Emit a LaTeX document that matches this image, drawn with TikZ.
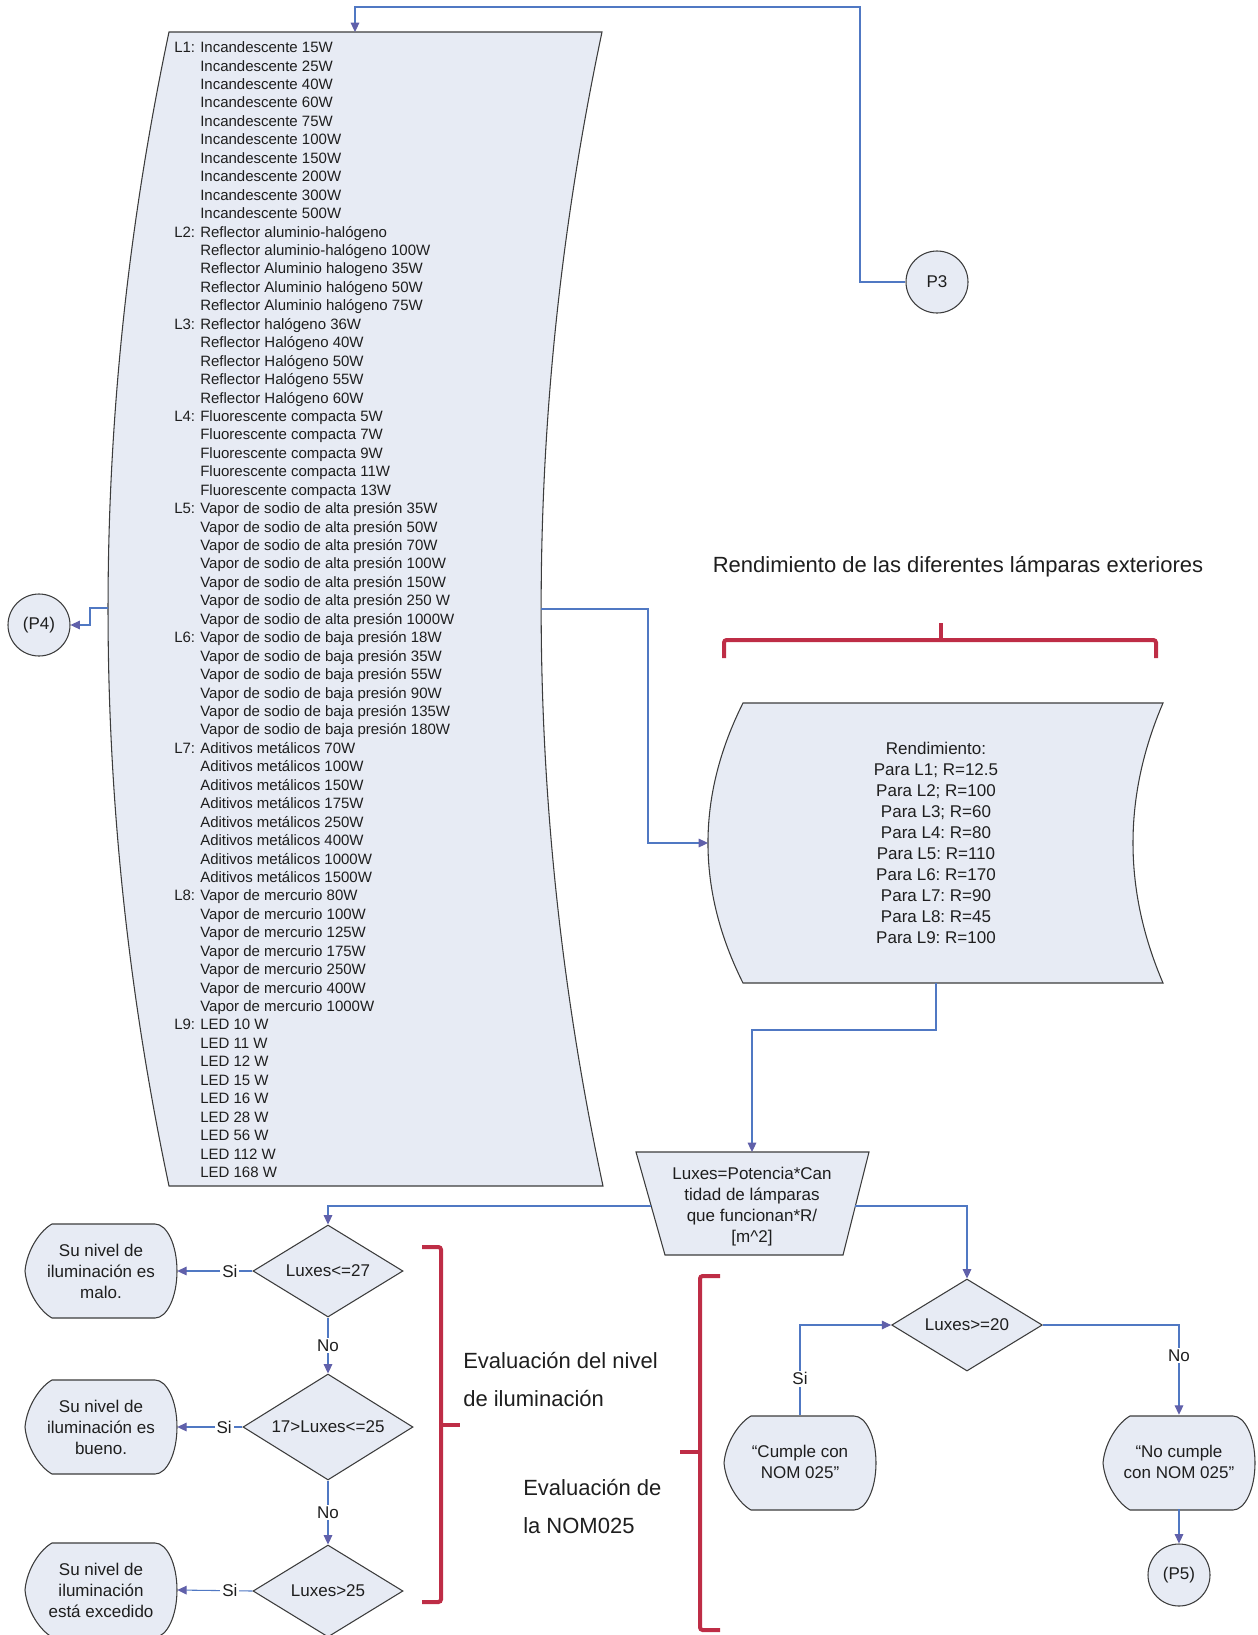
\documentclass[tikz,border=0pt]{standalone}
\usepackage{fontspec}
\setmainfont{Liberation Sans}
\usetikzlibrary{shapes.geometric,arrows.meta,calc}
\definecolor{linec}{RGB}{80,120,195}
\definecolor{tipc}{RGB}{96,96,170}
\definecolor{fillc}{RGB}{231,235,244}
\definecolor{edgec}{RGB}{60,60,60}
\definecolor{redc}{RGB}{190,45,70}
\definecolor{txtc}{RGB}{30,30,30}
\newcommand{\Lb}[1]{\makebox[19.5pt][l]{#1}}
\frenchspacing
\tikzset{
 shp/.style={fill=fillc, draw=edgec, line width=0.8pt},
 conn/.style={draw=linec, line width=0.8pt},
 arr/.style={conn, -{Triangle[length=7pt,width=6.5pt,color=tipc]}},
 brk/.style={draw=redc, line width=3pt, rounded corners=2pt},
 ftx/.style={font=\fontsize{12.75}{15.75}\selectfont, text=txtc, align=center},
 dec/.style={diamond, shp, aspect=1.6, inner sep=0pt, ftx},
 circ/.style={circle, shp, minimum size=46.5pt, inner sep=0pt, ftx},
 disp/.style={rectangle, minimum width=114pt, minimum height=70.5pt, inner sep=0pt, ftx},
 lbl/.style={fill=white, inner sep=1.5pt, ftx},
 big/.style={font=\fontsize{16.5}{28.5}\selectfont, text=txtc, align=left, inner sep=0pt},
}
\newcommand{\dispshape}[2]{%
 \draw[shp, shift={(#1,#2)}] (-49,-47) -- (54,-47) .. controls (66,-47) and (76,-26) .. (76,0) .. controls (76,26) and (66,47) .. (54,47) -- (-49,47) .. controls (-60,41) and (-74,22) .. (-76,0) .. controls (-74,-22) and (-60,-41) .. (-49,-47) -- cycle;}
\begin{document}
\begin{tikzpicture}[x=0.75pt,y=-0.75pt]
\useasboundingbox (0,0) rectangle (1257,1635);

% big list shape
\draw[shp] (169,32) -- (602,32) .. controls (520.7,416.7) and (520.7,801.3) .. (603,1186) -- (169,1186) .. controls (87.7,801.3) and (87.7,416.7) .. (169,32) -- cycle;
\node[anchor=north west, inner sep=0pt, font=\fontsize{11.25}{13.83}\selectfont, text=txtc, align=left] (lamps) at (174,41.5) {%
\Lb{L1:}Incandescente 15W\\
\Lb{}Incandescente 25W\\
\Lb{}Incandescente 40W\\
\Lb{}Incandescente 60W\\
\Lb{}Incandescente 75W\\
\Lb{}Incandescente 100W\\
\Lb{}Incandescente 150W\\
\Lb{}Incandescente 200W\\
\Lb{}Incandescente 300W\\
\Lb{}Incandescente 500W\\
\Lb{L2:}Reflector aluminio-halógeno\\
\Lb{}Reflector aluminio-halógeno 100W\\
\Lb{}Reflector Aluminio halogeno 35W\\
\Lb{}Reflector Aluminio halógeno 50W\\
\Lb{}Reflector Aluminio halógeno 75W\\
\Lb{L3:}Reflector halógeno 36W\\
\Lb{}Reflector Halógeno 40W\\
\Lb{}Reflector Halógeno 50W\\
\Lb{}Reflector Halógeno 55W\\
\Lb{}Reflector Halógeno 60W\\
\Lb{L4:}Fluorescente compacta 5W\\
\Lb{}Fluorescente compacta 7W\\
\Lb{}Fluorescente compacta 9W\\
\Lb{}Fluorescente compacta 11W\\
\Lb{}Fluorescente compacta 13W\\
\Lb{L5:}Vapor de sodio de alta presión 35W\\
\Lb{}Vapor de sodio de alta presión 50W\\
\Lb{}Vapor de sodio de alta presión 70W\\
\Lb{}Vapor de sodio de alta presión 100W\\
\Lb{}Vapor de sodio de alta presión 150W\\
\Lb{}Vapor de sodio de alta presión 250 W\\
\Lb{}Vapor de sodio de alta presión 1000W\\
\Lb{L6:}Vapor de sodio de baja presión 18W\\
\Lb{}Vapor de sodio de baja presión 35W\\
\Lb{}Vapor de sodio de baja presión 55W\\
\Lb{}Vapor de sodio de baja presión 90W\\
\Lb{}Vapor de sodio de baja presión 135W\\
\Lb{}Vapor de sodio de baja presión 180W\\
\Lb{L7:}Aditivos metálicos 70W\\
\Lb{}Aditivos metálicos 100W\\
\Lb{}Aditivos metálicos 150W\\
\Lb{}Aditivos metálicos 175W\\
\Lb{}Aditivos metálicos 250W\\
\Lb{}Aditivos metálicos 400W\\
\Lb{}Aditivos metálicos 1000W\\
\Lb{}Aditivos metálicos 1500W\\
\Lb{L8:}Vapor de mercurio 80W\\
\Lb{}Vapor de mercurio 100W\\
\Lb{}Vapor de mercurio 125W\\
\Lb{}Vapor de mercurio 175W\\
\Lb{}Vapor de mercurio 250W\\
\Lb{}Vapor de mercurio 400W\\
\Lb{}Vapor de mercurio 1000W\\
\Lb{L9:}LED 10 W\\
\Lb{}LED 11 W\\
\Lb{}LED 12 W\\
\Lb{}LED 15 W\\
\Lb{}LED 16 W\\
\Lb{}LED 28 W\\
\Lb{}LED 56 W\\
\Lb{}LED 112 W\\
\Lb{}LED 168 W};
\coordinate (Ltop) at (355,32);
\coordinate (Lw) at (108,608);
\coordinate (Le) at (541,609);

% connectors P3 / P4
\node[circ] (p3) at (937,282) {P3};
\node[circ] (p4) at (39,625) {(P4)};
\draw[arr] (p3.west) -- (860,282) -- (860,7) -| (Ltop);
\draw[arr] (Lw) -- (90,608) |- (p4.east);

% Rendimiento
\node[font=\fontsize{16.5}{20}\selectfont, text=txtc] (title) at (958,567) {Rendimiento de las diferentes lámparas exteriores};
\draw[brk] (724,658) -- (724,640) -- (1156,640) -- (1156,658);
\draw[brk] (941,640) -- (941,623);
\draw[shp] (743,703) -- (1163,703) .. controls (1123,796.3) and (1123,889.7) .. (1163,983) -- (743,983) .. controls (696.3,889.7) and (696.3,796.3) .. (743,703) -- cycle;
\node[ftx] (rend) at (936,842.5) {Rendimiento:\\Para L1; R=12.5\\Para L2; R=100\\Para L3; R=60\\Para L4: R=80\\Para L5: R=110\\Para L6: R=170\\Para L7: R=90\\Para L8: R=45\\Para L9: R=100};
\coordinate (rendW) at (708,843);
\coordinate (rendS) at (936,983);
\draw[arr] (Le) -- (648,609) |- (rendW);

% Luxes trapezoid
\draw[shp] (636,1152) -- (869,1152) -- (843,1255) -- (665,1255) -- cycle;
\node[ftx, inner sep=0pt] (lux) at (752,1207) {Luxes=Potencia*Can\\tidad de lámparas\\que funcionan*R/\\{[m\textasciicircum 2]}};
\coordinate (luxN) at (752,1152);
\coordinate (luxW) at (651,1206);
\coordinate (luxE) at (855,1206);
\draw[arr] (rendS) -- (936,1030) -| (luxN);

% left decision column
\node[dec, minimum width=112.5pt, minimum height=69pt] (d1) at (328,1271) {Luxes<=27};
\node[dec, minimum width=127.5pt, minimum height=79.5pt] (d2) at (328,1427) {17>Luxes<=25};
\node[dec, minimum width=112.5pt, minimum height=69pt] (d3) at (328,1591) {Luxes>25};
\dispshape{101}{1271}
\node[disp] (m1) at (101,1271) {Su nivel de\\iluminación es\\malo.};
\dispshape{101}{1427}
\node[disp] (m2) at (101,1427) {Su nivel de\\iluminación es\\bueno.};
\dispshape{101}{1590}
\node[disp] (m3) at (101,1590) {Su nivel de\\iluminación\\está excedido};
\draw[arr] (luxW) -| (d1.north);
\draw[arr] (d1.west) -- node[lbl, pos=0.3]{Si} (m1.east);
\draw[arr] (d2.west) -- node[lbl, pos=0.28]{Si} (m2.east);
\draw[arr] (d3.west) -- node[lbl, pos=0.3]{Si} (m3.east);
\draw[arr] (d1.south) -- node[lbl]{No} (d2.north);
\draw[arr] (d2.south) -- node[lbl]{No} (d3.north);

% brackets and texts
\draw[brk] (422,1247) -- (441,1247) -- (441,1602) -- (422,1602);
\draw[brk] (441,1425) -- (460,1425);
\draw[brk] (720,1276) -- (700,1276) -- (700,1630) -- (720,1630);
\draw[brk] (700,1452) -- (680,1452);
\node[big, anchor=west] (ev1) at (463,1379) {Evaluación del nivel\\de iluminación};
\node[big, anchor=west] (ev2) at (523,1506) {Evaluación de\\la NOM025};

% NOM decision
\node[dec, minimum width=113pt, minimum height=69pt] (d4) at (967,1325) {Luxes>=20};
\draw[arr] (luxE) -| (d4.north);
\dispshape{800}{1463}
\node[disp] (cum) at (800,1462) {“Cumple con\\NOM 025”};
\dispshape{1179}{1463}
\node[disp] (nocum) at (1179,1462) {“No cumple\\con NOM 025”};
\draw[arr] (cum.north) -- node[lbl, pos=0.4]{Si} (800,1325) -- (d4.west);
\draw[arr] (d4.east) -| node[lbl, pos=0.67]{No} (nocum.north);
\node[circ] (p5) at (1179,1575) {(P5)};
\draw[arr] (nocum.south) -- (p5.north);
\end{tikzpicture}
\end{document}
